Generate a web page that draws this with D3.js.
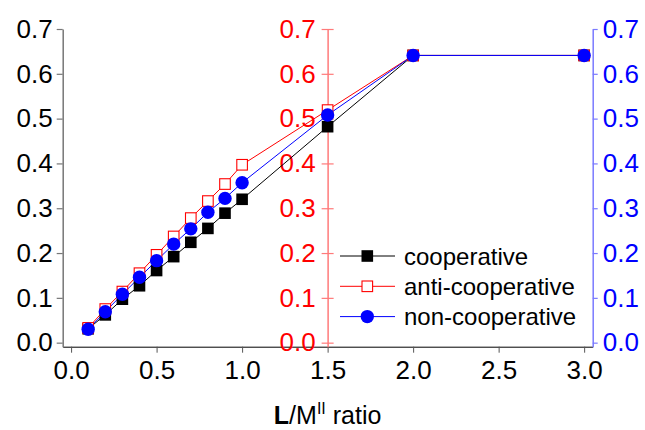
<!DOCTYPE html>
<html lang="en">
    <head>
        <meta charset="utf-8">
        <title>L/M ratio chart</title>
        <script src="https://d3js.org/d3.v7.min.js"></script>
        <style type="text/css">
            body { margin: 0; background: #fff; }
            text { font-family: "Liberation Sans", Arial, sans-serif; }
        </style>
    </head>
    <body>
        <svg id="chart" width="645" height="430"></svg>
        <script>
            //Data
            var xValues = [0.1, 0.2, 0.3, 0.4, 0.5, 0.6, 0.7, 0.8, 0.9, 1.0, 1.5, 2.0, 3.0];
            var cooperative = [0.031, 0.062, 0.097, 0.127, 0.161, 0.192, 0.224, 0.255, 0.289, 0.320, 0.482, 0.641, 0.641];
            var antiCooperative = [0.033, 0.075, 0.114, 0.155, 0.196, 0.237, 0.278, 0.316, 0.354, 0.397, 0.519, 0.641, 0.641];
            var nonCooperative = [0.030, 0.069, 0.108, 0.146, 0.183, 0.220, 0.254, 0.291, 0.322, 0.357, 0.508, 0.641, 0.641];
            var xTicks = [0.0, 0.5, 1.0, 1.5, 2.0, 2.5, 3.0];
            var yTicks = [0.0, 0.1, 0.2, 0.3, 0.4, 0.5, 0.6, 0.7];
            var seriesNames = ['cooperative', 'anti-cooperative', 'non-cooperative'];

            var svg = d3.select('#chart');

            //Scales
            var xScale = d3.scaleLinear()
                           .domain([-0.049, 3.05])
                           .range([62.7, 592.7]);
            var yScale = d3.scaleLinear()
                           .domain([-0.009, 0.7])
                           .range([346.7, 29]);

            var fmt = d3.format('.1f');

            //X axis
            var xAxis = d3.axisBottom(xScale)
                          .tickValues(xTicks)
                          .tickFormat(fmt)
                          .tickSize(6)
                          .tickSizeOuter(0)
                          .tickPadding(8);
            var gx = svg.append('g')
                        .attr('transform', 'translate(0,' + yScale(-0.009) + ')')
                        .call(xAxis);
            gx.select('.domain').attr('stroke', '#000');
            gx.selectAll('.tick line').attr('stroke', '#555');
            gx.selectAll('text').attr('font-size', 26).attr('fill', '#000')
              .style('font-family', '"Liberation Sans", Arial, sans-serif');

            //Three y axes: left (black), at x=1.5 (red), right (blue)
            function yAxisAt(xPos, gen, lineColor, textColor) {
                var g = svg.append('g')
                           .attr('transform', 'translate(' + xPos + ',0)')
                           .call(gen);
                g.select('.domain').attr('stroke', lineColor).attr('stroke-width', 1.5);
                g.selectAll('.tick line').attr('stroke', lineColor).attr('stroke-width', 1.2);
                g.selectAll('text').attr('font-size', 26).attr('fill', textColor)
                 .style('font-family', '"Liberation Sans", Arial, sans-serif');
                return g;
            }

            yAxisAt(xScale(-0.049),
                    d3.axisLeft(yScale).tickValues(yTicks).tickFormat(fmt)
                      .tickSize(6).tickSizeOuter(0).tickPadding(4),
                    '#777', '#000');

            var gRed = yAxisAt(xScale(1.5),
                    d3.axisLeft(yScale).tickValues(yTicks).tickFormat(fmt)
                      .tickSize(6).tickSizeOuter(0).tickPadding(6),
                    '#ff7a7a', '#ff0000');
            gRed.selectAll('.tick line').attr('x2', -6).attr('x1', 6);

            yAxisAt(xScale(3.05),
                    d3.axisRight(yScale).tickValues(yTicks).tickFormat(fmt)
                      .tickSize(5).tickSizeOuter(0).tickPadding(5),
                    '#7a7aff', '#0000ff');

            //Series
            var series = [
                { name: seriesNames[0], values: cooperative, color: '#000', marker: 'filledSquare' },
                { name: seriesNames[1], values: antiCooperative, color: '#ff0000', marker: 'openSquare' },
                { name: seriesNames[2], values: nonCooperative, color: '#0000ff', marker: 'circle' }
            ];

            var line = d3.line()
                         .x(function(d) { return xScale(d[0]); })
                         .y(function(d) { return yScale(d[1]); });

            function drawMarker(g, type, color, cx, cy) {
                if (type === 'circle') {
                    g.append('circle')
                     .attr('cx', cx).attr('cy', cy).attr('r', 6.7)
                     .attr('fill', color);
                } else if (type === 'filledSquare') {
                    g.append('rect')
                     .attr('x', cx - 5.8).attr('y', cy - 5.8)
                     .attr('width', 11.6).attr('height', 11.6)
                     .attr('fill', color);
                } else {
                    g.append('rect')
                     .attr('x', cx - 5.3).attr('y', cy - 5.3)
                     .attr('width', 10.6).attr('height', 10.6)
                     .attr('fill', '#fff')
                     .attr('stroke', color)
                     .attr('stroke-width', 1.1);
                }
            }

            //Lines first
            series.forEach(function(s) {
                var pts = xValues.map(function(x, i) { return [x, s.values[i]]; });
                svg.append('path')
                   .datum(pts)
                   .attr('d', line)
                   .attr('fill', 'none')
                   .attr('stroke', s.color)
                   .attr('stroke-width', 1);
            });

            //Markers in front
            series.forEach(function(s) {
                var g = svg.append('g');
                xValues.forEach(function(x, i) {
                    drawMarker(g, s.marker, s.color, xScale(x), yScale(s.values[i]));
                });
            });

            //Legend
            var legend = svg.append('g');
            series.forEach(function(s, i) {
                var y = 256 + i * 30.3;
                legend.append('line')
                      .attr('x1', 340).attr('x2', 395)
                      .attr('y1', y).attr('y2', y)
                      .attr('stroke', s.color).attr('stroke-width', 1);
                drawMarker(legend, s.marker, s.color, 367.3, y);
                legend.append('text')
                      .attr('x', 404)
                      .attr('y', y + 8.5)
                      .attr('font-size', 24)
                      .attr('fill', '#000')
                      .text(s.name);
            });

            //X axis title
            var title = svg.append('text')
                           .attr('x', xScale(1.5))
                           .attr('y', 424)
                           .attr('text-anchor', 'middle')
                           .attr('font-size', 25)
                           .attr('fill', '#000');
            title.append('tspan').attr('font-weight', 'bold').text('L');
            title.append('tspan').text('/M');
            title.append('tspan').attr('dy', -10).attr('font-size', 16).text('II');
            title.append('tspan').attr('dy', 10).text(' ratio');
        </script>
    </body>
</html>
